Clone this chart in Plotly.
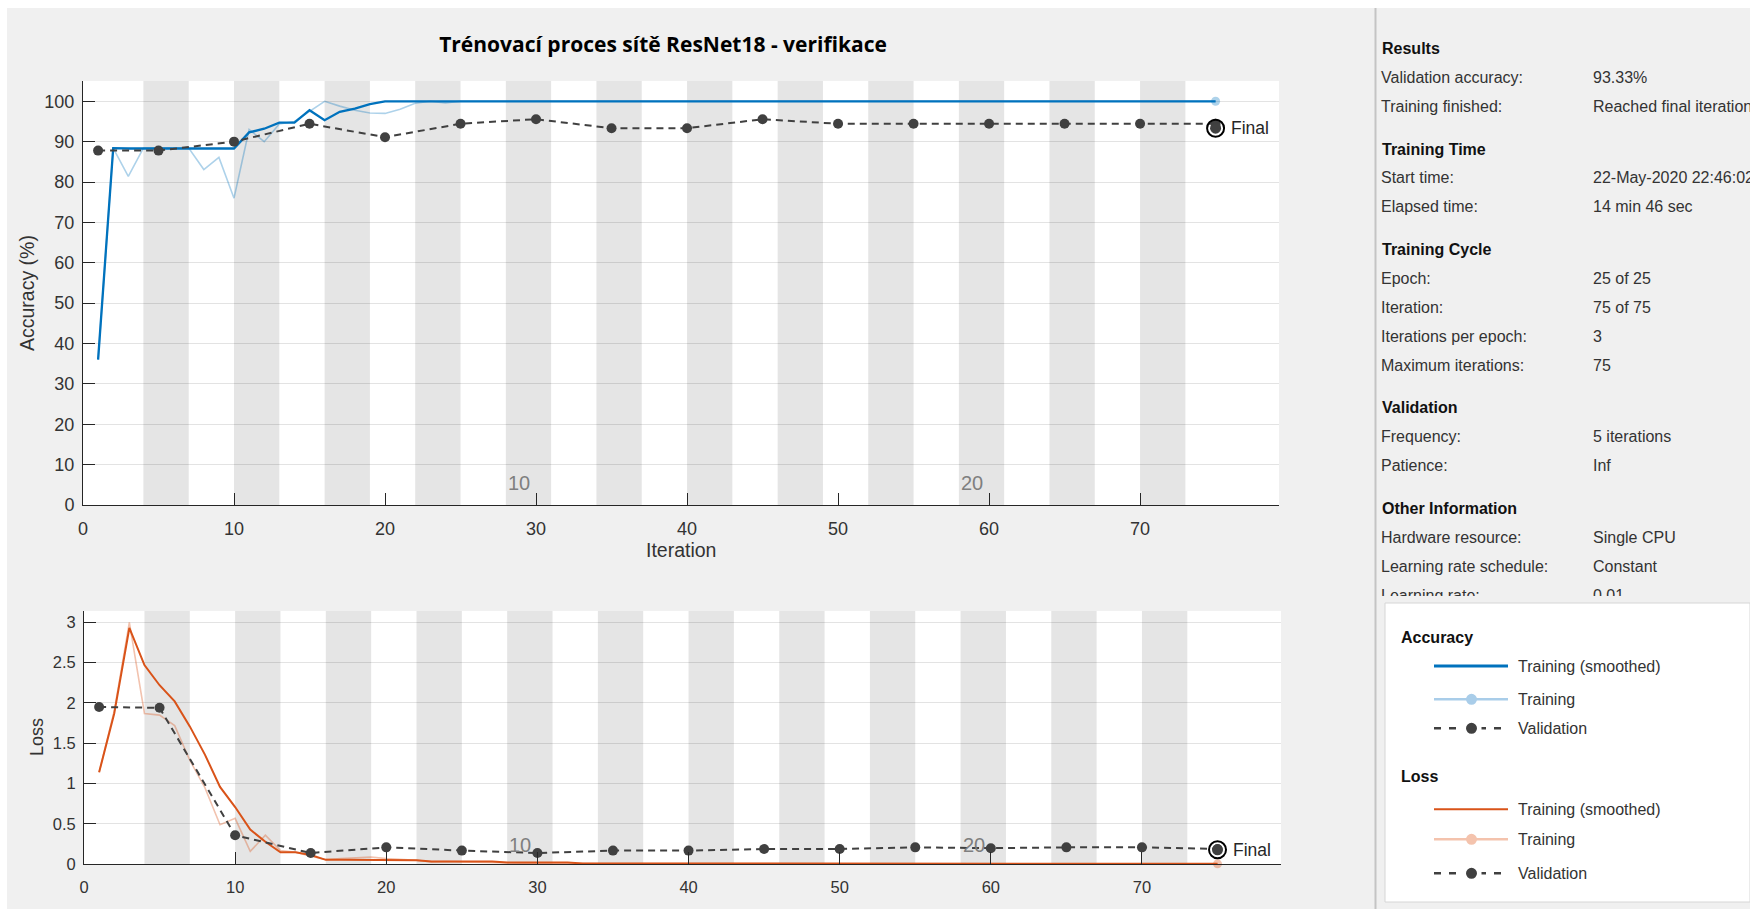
import plotly.graph_objects as go

W, H = 1750, 909

# ---------------- training log values ----------------
iterations = list(range(1, 76))

acc_smoothed = [36.0, 88.4, 88.3, 88.3, 88.3, 88.3, 88.3, 88.3, 88.3, 88.3,
                92.3, 93.2, 94.7, 94.7, 97.8, 95.3, 97.4, 98.2, 99.3, 100.0] + [100.0] * 55
acc_training = [36.0, 88.4, 81.4, 88.4, 88.4, 88.4, 88.4, 83.1, 86.1, 76.0,
                93.0, 90.0, 94.4, 95.0, 97.5, 100.0, 98.8, 97.8, 97.1, 97.0,
                98.0, 99.5, 100.0, 99.6, 100.0] + [100.0] * 50

val_iterations = [1, 5, 10, 15, 20, 25, 30, 35, 40, 45, 50, 55, 60, 65, 70, 75]
acc_validation = [87.78, 87.78, 90.00, 94.44, 91.11, 94.44, 95.56, 93.33,
                  93.33, 95.56, 94.44, 94.44, 94.44, 94.44, 94.44, 94.44]
acc_final = 93.33

loss_smoothed = [1.14, 1.87, 2.93, 2.47, 2.22, 2.02, 1.71, 1.36, 0.96, 0.71,
                 0.43, 0.28, 0.15, 0.15, 0.115, 0.055, 0.055, 0.055, 0.055, 0.055,
                 0.05, 0.05, 0.035, 0.035, 0.035, 0.035, 0.035, 0.022, 0.022, 0.022,
                 0.022, 0.022] + [0.010] * 13 + [0.006] * 30
loss_training = [1.14, 1.90, 3.00, 1.87, 1.85, 1.72, 1.29, 0.95, 0.49, 0.57,
                 0.16, 0.36, 0.17, 0.15, 0.10, 0.06, 0.07, 0.08, 0.09, 0.07,
                 0.06, 0.05, 0.03, 0.035, 0.03, 0.025, 0.02, 0.02, 0.015, 0.015,
                 0.012, 0.012] + [0.010] * 13 + [0.006] * 30
loss_validation = [1.95, 1.94, 0.36, 0.14, 0.21, 0.17, 0.14, 0.17,
                   0.17, 0.19, 0.19, 0.21, 0.20, 0.21, 0.21, 0.19]
loss_final = 0.18

iters_per_epoch = 3
num_epochs = 25
epoch_labels = [10, 20]

acc_ticks = list(range(0, 101, 10))
loss_ticks = [0, 0.5, 1, 1.5, 2, 2.5, 3]
iter_ticks = list(range(0, 71, 10))

panel_sections = [
    ("Results", [("Validation accuracy:", f"{acc_final:.2f}%"),
                 ("Training finished:", "Reached final iteration")]),
    ("Training Time", [("Start time:", "22-May-2020 22:46:02"),
                       ("Elapsed time:", "14 min 46 sec")]),
    ("Training Cycle", [("Epoch:", f"{num_epochs} of {num_epochs}"),
                        ("Iteration:", f"{iterations[-1]} of {iterations[-1]}"),
                        ("Iterations per epoch:", str(iters_per_epoch)),
                        ("Maximum iterations:", str(iterations[-1]))]),
    ("Validation", [("Frequency:", "5 iterations"),
                    ("Patience:", "Inf")]),
    ("Other Information", [("Hardware resource:", "Single CPU"),
                           ("Learning rate schedule:", "Constant"),
                           ("Learning rate:", "0.01")]),
]

# ---------------- styling ----------------
BLUE = "#0072BD"
BLUE_LIGHT = "rgba(0,114,189,0.32)"
ORANGE = "#D95319"
ORANGE_LIGHT = "rgba(217,83,25,0.35)"
VAL = "#404040"
AXC = "#262626"
TXT = "#333333"
BAND = "#e5e5e5"
GRID = "rgba(0,0,0,0.11)"
FONT = "Liberation Sans, Arial, sans-serif"
DASH = "7px,5px"


def px(x):
    return x / W


def py(y):
    return 1 - y / H


X_MAX = 79.2
ACC_MAX = 105.1
LOSS_MAX = 3.144
PANEL_CLIP = 596  # bottom edge of the scrolling info panel

fig = go.Figure()

# ---------------- accuracy plot ----------------
fig.add_trace(go.Scatter(x=iterations, y=acc_training, mode="lines",
                         line=dict(color=BLUE_LIGHT, width=1.6),
                         xaxis="x", yaxis="y", hoverinfo="skip"))
fig.add_trace(go.Scatter(x=[iterations[-1]], y=[acc_training[-1]], mode="markers",
                         marker=dict(color=BLUE_LIGHT, size=9),
                         xaxis="x", yaxis="y", hoverinfo="skip"))
fig.add_trace(go.Scatter(x=iterations, y=acc_smoothed, mode="lines",
                         line=dict(color=BLUE, width=2.3),
                         xaxis="x", yaxis="y"))
fig.add_trace(go.Scatter(x=val_iterations, y=acc_validation, mode="lines+markers",
                         line=dict(color=VAL, width=2, dash=DASH),
                         marker=dict(color=VAL, size=10),
                         xaxis="x", yaxis="y"))
fig.add_trace(go.Scatter(x=[iterations[-1]], y=[acc_final], mode="markers",
                         marker=dict(color=VAL, size=11),
                         xaxis="x", yaxis="y"))
fig.add_trace(go.Scatter(x=[iterations[-1]], y=[acc_final], mode="markers",
                         marker=dict(symbol="circle-open", color="black", size=17,
                                     line=dict(width=2, color="black")),
                         xaxis="x", yaxis="y", hoverinfo="skip"))

# ---------------- loss plot ----------------
fig.add_trace(go.Scatter(x=iterations, y=loss_training, mode="lines",
                         line=dict(color=ORANGE_LIGHT, width=1.6),
                         xaxis="x2", yaxis="y2", hoverinfo="skip"))
fig.add_trace(go.Scatter(x=[iterations[-1]], y=[loss_training[-1]], mode="markers",
                         marker=dict(color=ORANGE_LIGHT, size=9),
                         xaxis="x2", yaxis="y2", hoverinfo="skip", cliponaxis=False))
fig.add_trace(go.Scatter(x=iterations, y=loss_smoothed, mode="lines",
                         line=dict(color=ORANGE, width=2),
                         xaxis="x2", yaxis="y2"))
fig.add_trace(go.Scatter(x=val_iterations, y=loss_validation, mode="lines+markers",
                         line=dict(color=VAL, width=2, dash=DASH),
                         marker=dict(color=VAL, size=10),
                         xaxis="x2", yaxis="y2"))
fig.add_trace(go.Scatter(x=[iterations[-1]], y=[loss_final], mode="markers",
                         marker=dict(color=VAL, size=11),
                         xaxis="x2", yaxis="y2"))
fig.add_trace(go.Scatter(x=[iterations[-1]], y=[loss_final], mode="markers",
                         marker=dict(symbol="circle-open", color="black", size=17,
                                     line=dict(width=2, color="black")),
                         xaxis="x2", yaxis="y2", hoverinfo="skip"))

# ---------------- info panel text (clipped at the panel bottom) ----------------
ROW, GAP = 28.9, 42.7
y_cur = 50.0
head_x, head_y, head_t = [], [], []
lab_x, lab_y, lab_t = [], [], []
val_x, val_y, val_t = [], [], []
for s_i, (head, rows) in enumerate(panel_sections):
    if s_i > 0:
        y_cur += GAP - ROW
    head_x.append(1382); head_y.append(y_cur); head_t.append(f"<b>{head}</b>")
    for lab, val in rows:
        y_cur += ROW
        lab_x.append(1381); lab_y.append(y_cur); lab_t.append(lab)
        val_x.append(1593); val_y.append(y_cur); val_t.append(val)
    y_cur += ROW

for xs, ys, ts, col in [(head_x, head_y, head_t, "#111111"),
                        (lab_x, lab_y, lab_t, TXT),
                        (val_x, val_y, val_t, TXT)]:
    fig.add_trace(go.Scatter(x=xs, y=ys, text=ts, mode="text",
                             textposition="middle right",
                             textfont=dict(family=FONT, size=16, color=col),
                             xaxis="x3", yaxis="y3", hoverinfo="skip",
                             cliponaxis=True))

# ---------------- shapes ----------------
shapes = []
# white page border
shapes.append(dict(type="rect", xref="paper", yref="paper", x0=0, x1=1, y0=py(8), y1=1,
                   fillcolor="white", line=dict(width=0), layer="below"))
shapes.append(dict(type="rect", xref="paper", yref="paper", x0=0, x1=px(7), y0=0, y1=1,
                   fillcolor="white", line=dict(width=0), layer="below"))
# panel divider
shapes.append(dict(type="line", xref="paper", yref="paper", x0=px(1375.5), x1=px(1375.5),
                   y0=0, y1=py(8), line=dict(color="#c4c4c4", width=2), layer="below"))
# legend box
shapes.append(dict(type="rect", xref="paper", yref="paper", x0=px(1385), x1=1,
                   y0=py(902), y1=py(603), fillcolor="white",
                   line=dict(color="#d6d6d6", width=1), layer="below"))

# plot areas and shaded (even) epochs
for xr, yr, ymax in [("x", "y", ACC_MAX), ("x2", "y2", LOSS_MAX)]:
    shapes.append(dict(type="rect", xref=xr, yref=yr, x0=0, x1=X_MAX, y0=0, y1=ymax,
                       fillcolor="white", line=dict(width=0), layer="below"))
    for e in range(2, num_epochs + 1, 2):
        shapes.append(dict(type="rect", xref=xr, yref=yr,
                           x0=iters_per_epoch * (e - 1) + 1, x1=iters_per_epoch * e + 1,
                           y0=0, y1=ymax, fillcolor=BAND, line=dict(width=0),
                           layer="below"))

# legend samples
LX0, LX1, LXM = 1434, 1508, 1471.5
legend_rows = [
    ("<b>Accuracy</b>", 637.7, None),
    ("Training (smoothed)", 666.0, ("solid", BLUE, 3, None)),
    ("Training", 699.3, ("solid", "#a9cde9", 2.5, "#a9cde9")),
    ("Validation", 728.3, ("dash", VAL, 2.5, VAL)),
    ("<b>Loss</b>", 776.7, None),
    ("Training (smoothed)", 809.3, ("solid", ORANGE, 2, None)),
    ("Training", 839.3, ("solid", "#f4c3ad", 2.5, "#f4c3ad")),
    ("Validation", 873.3, ("dash", VAL, 2.5, VAL)),
]
annotations = []
for text, yy, style in legend_rows:
    if style is None:
        annotations.append(dict(xref="paper", yref="paper", x=px(1399), y=py(yy),
                                xanchor="left", yanchor="middle", showarrow=False,
                                text=text, font=dict(family=FONT, size=16, color="#111111")))
        continue
    dash, col, wid, mcol = style
    shapes.append(dict(type="line", xref="paper", yref="paper",
                       x0=px(LX0), x1=px(LX1), y0=py(yy), y1=py(yy),
                       line=dict(color=col, width=wid,
                                 dash="7px,8px" if dash == "dash" else "solid"),
                       layer="above"))
    if mcol is not None:
        r = 5.5
        if dash == "dash":
            shapes.append(dict(type="rect", xref="paper", yref="paper",
                               x0=px(LXM - 10), x1=px(LXM + 10), y0=py(yy + 3), y1=py(yy - 3),
                               fillcolor="white", line=dict(width=0), layer="above"))
        shapes.append(dict(type="circle", xref="paper", yref="paper",
                           x0=px(LXM - r), x1=px(LXM + r), y0=py(yy + r), y1=py(yy - r),
                           fillcolor=mcol, line=dict(width=0), layer="above"))
    annotations.append(dict(xref="paper", yref="paper", x=px(1516), y=py(yy),
                            xanchor="left", yanchor="middle", showarrow=False,
                            text=text, font=dict(family=FONT, size=16, color=TXT)))

# axis titles
annotations += [
    dict(xref="paper", yref="paper", x=px(27), y=py(293), text="Accuracy (%)",
         textangle=-90, xanchor="center", yanchor="middle", showarrow=False,
         font=dict(family=FONT, size=19.5, color=TXT)),
    dict(xref="paper", yref="paper", x=px(681), y=py(550), text="Iteration",
         xanchor="center", yanchor="middle", showarrow=False,
         font=dict(family=FONT, size=19.5, color=TXT)),
    dict(xref="paper", yref="paper", x=px(37), y=py(737), text="Loss",
         textangle=-90, xanchor="center", yanchor="middle", showarrow=False,
         font=dict(family=FONT, size=18, color=TXT)),
]
# "Final" markers
annotations += [
    dict(xref="x", yref="y", x=iterations[-1], y=acc_final, text="Final",
         xanchor="left", yanchor="middle", xshift=13, showarrow=False,
         font=dict(family=FONT, size=17.5, color=AXC)),
    dict(xref="x2", yref="y2", x=iterations[-1], y=loss_final, text="Final",
         xanchor="left", yanchor="middle", xshift=13, showarrow=False,
         font=dict(family=FONT, size=17.5, color=AXC)),
]
# epoch labels
for e in epoch_labels:
    x_ep = iters_per_epoch * (e - 1) + 1
    annotations.append(dict(xref="x", yref="y domain", x=x_ep, y=22 / 424.3,
                            xanchor="left", yanchor="middle", showarrow=False,
                            text=str(e), font=dict(family=FONT, size=20, color="#7f7f7f")))
    annotations.append(dict(xref="x2", yref="y2 domain", x=x_ep, y=19.3 / 253.6,
                            xanchor="left", yanchor="middle", showarrow=False,
                            text=str(e), font=dict(family=FONT, size=20, color="#7f7f7f")))

axis_common = dict(showline=True, linecolor=AXC, linewidth=1, ticks="inside",
                   ticklen=12, tickcolor=AXC, zeroline=False, fixedrange=True,
                   mirror=False, automargin=False)

fig.update_layout(
    width=W, height=H,
    margin=dict(l=0, r=0, t=0, b=0, pad=0, autoexpand=False),
    paper_bgcolor="#f0f0f0", plot_bgcolor="rgba(0,0,0,0)",
    showlegend=False,
    title=dict(text="<b>Trénovací proces sítě ResNet18 - verifikace</b>",
               x=px(663), y=py(44.6), xanchor="center", yanchor="middle",
               automargin=False,
               font=dict(family="Open Sans, sans-serif", size=21, color="black")),
    xaxis=dict(domain=[px(83), px(1279)], range=[0, X_MAX], anchor="y",
               tickvals=iter_ticks, showgrid=False,
               tickfont=dict(family=FONT, size=18, color=TXT), ticklabelstandoff=7,
               **axis_common),
    yaxis=dict(domain=[py(505), py(80.7)], range=[0, ACC_MAX], anchor="x",
               tickvals=acc_ticks, showgrid=True, gridcolor=GRID, gridwidth=1,
               tickfont=dict(family=FONT, size=18, color=TXT), ticklabelstandoff=4,
               **axis_common),
    xaxis2=dict(domain=[px(84), px(1281)], range=[0, X_MAX], anchor="y2",
                tickvals=iter_ticks, showgrid=False,
                tickfont=dict(family=FONT, size=16.5, color=TXT), ticklabelstandoff=8,
                **axis_common),
    yaxis2=dict(domain=[py(864.3), py(610.7)], range=[0, LOSS_MAX], anchor="x2",
                tickvals=loss_ticks, showgrid=True, gridcolor=GRID, gridwidth=1,
                tickfont=dict(family=FONT, size=16.5, color=TXT), ticklabelstandoff=4,
                **axis_common),
    xaxis3=dict(domain=[px(1377), 1], range=[1377, 1750], anchor="y3", visible=False,
                fixedrange=True, automargin=False),
    yaxis3=dict(domain=[py(PANEL_CLIP), py(8)], range=[PANEL_CLIP, 8], anchor="x3",
                visible=False, fixedrange=True, automargin=False),
    shapes=shapes,
    annotations=annotations,
)

fig.write_html("out.html", config={"displayModeBar": False})
